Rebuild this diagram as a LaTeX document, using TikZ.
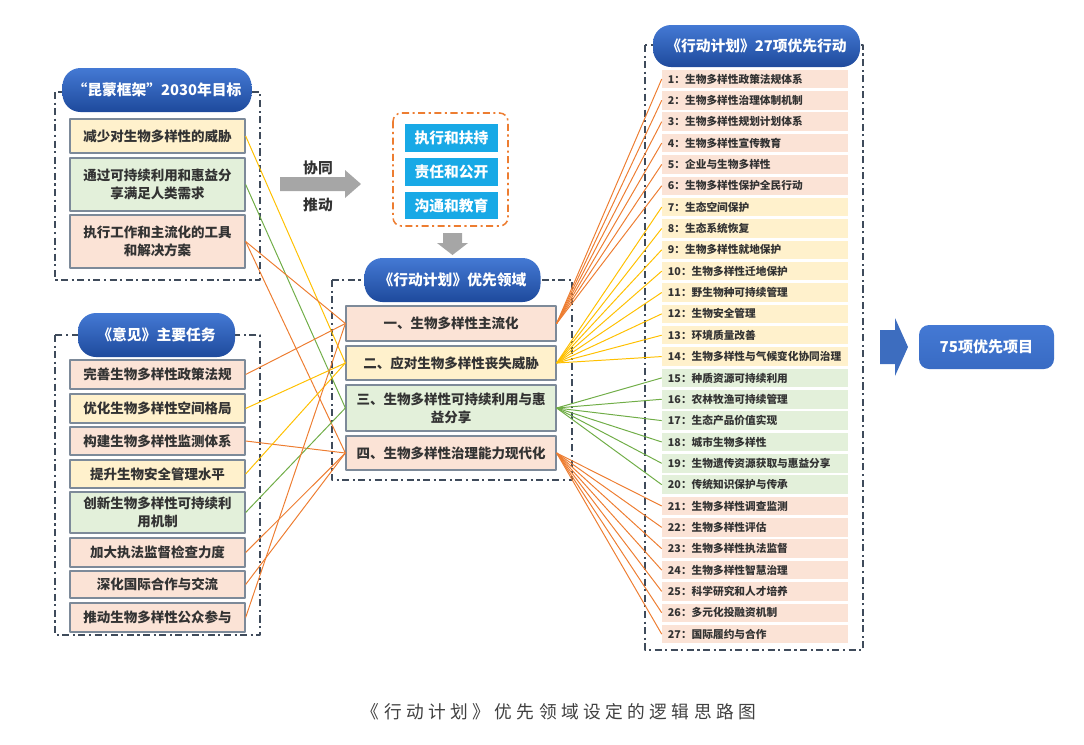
\documentclass[tikz,border=0pt]{standalone}
\usepackage{fontspec}
\setmainfont{Noto Sans CJK SC}
\newfontfamily\capfont[LetterSpace=25]{Noto Sans CJK SC}
\definecolor{pinkbox}{HTML}{FBE3D6}
\definecolor{yellowbox}{HTML}{FFF1CC}
\definecolor{greenbox}{HTML}{E3F0DA}
\definecolor{orangeline}{HTML}{ED7D31}
\definecolor{yellowline}{HTML}{FFC000}
\definecolor{greenline}{HTML}{70AD47}
\definecolor{boxedge}{HTML}{7D8A99}
\definecolor{framegray}{HTML}{3F4B5B}
\definecolor{pilltop}{HTML}{4479D4}
\definecolor{pillbot}{HTML}{1E4A9C}
\definecolor{cyanbox}{HTML}{18A9E6}
\definecolor{arrowgray}{HTML}{A6A6A6}
\definecolor{textgray}{HTML}{333333}
\tikzset{
  wh/.style 2 args={minimum width=#1*0.025cm,minimum height=#2*0.025cm},
  box/.style={draw=boxedge,line width=0.9pt,inner sep=0pt,align=center,text=textgray,
    font=\fontsize{9.6}{13}\selectfont\bfseries},
  pill/.style={rounded corners=0.45cm,top color=pilltop,bottom color=pillbot,text=white,
    inner sep=0pt,font=\fontsize{10.5}{12}\selectfont\bfseries},
  frame/.style={framegray,line width=1.1pt,dash pattern=on 5pt off 2.5pt on 1.5pt off 2.5pt},
  row/.style={inner sep=0pt,wh={186}{18.5},text width=4.35cm,align=left,text=textgray,
    font=\fontsize{7.6}{9}\selectfont\bfseries},
  cyanitem/.style={fill=cyanbox,inner sep=0pt,text=white,font=\fontsize{10.5}{12}\selectfont\bfseries},
  link/.style={line width=0.7pt}
}

\begin{document}
\begin{tikzpicture}[x=0.025cm,y=-0.025cm,line join=round]
  \useasboundingbox (0,0) rectangle (1084,744);

  % 左上：昆蒙框架
  \draw[frame] (55,92) rectangle (260,280);
  \node[pill,wh={189}{44}] (t1) at (157,90) {“昆蒙框架”2030年目标};
  \node[box,wh={175}{34},fill=yellowbox] (a1) at (157.5,136) {减少对生物多样性的威胁};
  \node[box,wh={175}{53},fill=greenbox] (a2) at (157.5,184.5) {通过可持续利用和惠益分\\享满足人类需求};
  \node[box,wh={175}{53},fill=pinkbox] (a3) at (157.5,241.5) {执行工作和主流化的工具\\和解决方案};

  % 左下：意见
  \draw[frame] (55,335) rectangle (260,635);
  \node[pill,wh={157}{44}] (t2) at (156.5,335) {《意见》主要任务};
  \node[box,wh={175}{29},fill=pinkbox] (b1) at (157.5,374.5) {完善生物多样性政策法规};
  \node[box,wh={175}{29},fill=yellowbox] (b2) at (157.5,408.5) {优化生物多样性空间格局};
  \node[box,wh={175}{28},fill=pinkbox] (b3) at (157.5,441) {构建生物多样性监测体系};
  \node[box,wh={175}{28},fill=yellowbox] (b4) at (157.5,474) {提升生物安全管理水平};
  \node[box,wh={175}{41},fill=greenbox] (b5) at (157.5,512.5) {创新生物多样性可持续利\\用机制};
  \node[box,wh={175}{29},fill=pinkbox] (b6) at (157.5,552.5) {加大执法监督检查力度};
  \node[box,wh={175}{27},fill=pinkbox] (b7) at (157.5,584.5) {深化国际合作与交流};
  \node[box,wh={175}{29},fill=pinkbox] (b8) at (157.5,617.5) {推动生物多样性公众参与};

  % 协同推动
  \fill[arrowgray] (280,177) -- (345,177) -- (345,170) -- (361,184) -- (345,198) -- (345,191) -- (280,191) -- cycle;
  \node[text=textgray,font=\fontsize{10.5}{12}\selectfont\bfseries] (xt) at (318,168) {协同};
  \node[text=textgray,font=\fontsize{10.5}{12}\selectfont\bfseries] (td) at (318,205) {推动};

  % 三个保障
  \draw[orangeline,line width=1.1pt,rounded corners=6pt,dash pattern=on 5pt off 2.5pt on 1.5pt off 2.5pt]
    (393,113) rectangle (508,226);
  \node[cyanitem,wh={93}{28}] (c1) at (451.5,138) {执行和扶持};
  \node[cyanitem,wh={93}{28}] (c2) at (451.5,172) {责任和公开};
  \node[cyanitem,wh={93}{27}] (c3) at (451.5,205.5) {沟通和教育};
  \fill[arrowgray] (443,233) -- (462,233) -- (462,243) -- (468,243) -- (452.5,255) -- (437,243) -- (443,243) -- cycle;

  % 中间：优先领域
  \draw[frame] (332,280) rectangle (572,480);
  \node[pill,wh={176}{44}] (t3) at (452.5,280) {《行动计划》优先领域};
  \node[box,wh={210}{35},fill=pinkbox] (p1) at (451,323.5) {一、生物多样性主流化};
  \node[box,wh={210}{34},fill=yellowbox] (p2) at (451,363) {二、应对生物多样性丧失威胁};
  \node[box,wh={210}{46},fill=greenbox] (p3) at (451,408) {三、生物多样性可持续利用与惠\\益分享};
  \node[box,wh={210}{34},fill=pinkbox] (p4) at (451,453) {四、生物多样性治理能力现代化};

  % 左侧连线
  \draw[link,yellowline] (a1.east) -- (p2.west);
  \draw[link,greenline] (a2.east) -- (p3.west);
  \draw[link,orangeline] (a3.east) -- (p1.west);
  \draw[link,orangeline] (a3.east) -- (p4.west);
  \draw[link,orangeline] (b1.east) -- (p1.west);
  \draw[link,yellowline] (b2.east) -- (p2.west);
  \draw[link,orangeline] (b3.east) -- (p4.west);
  \draw[link,yellowline] (b4.east) -- (p2.west);
  \draw[link,greenline] (b5.east) -- (p3.west);
  \draw[link,orangeline] (b6.east) -- (p4.west);
  \draw[link,orangeline] (b7.east) -- (p4.west);
  \draw[link,orangeline] (b8.east) -- (p1.west);

  % 右侧：27项优先行动
  \draw[frame] (645,45) rectangle (863,650);
  \node[pill,wh={207}{42}] (t4) at (756.5,46) {《行动计划》27项优先行动};
  \foreach \i/\c/\l/\p/\t in {
    1/pinkbox/orangeline/p1/生物多样性政策法规体系,
    2/pinkbox/orangeline/p1/生物多样性治理体制机制,
    3/pinkbox/orangeline/p1/生物多样性规划计划体系,
    4/pinkbox/orangeline/p1/生物多样性宣传教育,
    5/pinkbox/orangeline/p1/企业与生物多样性,
    6/pinkbox/orangeline/p1/生物多样性保护全民行动,
    7/yellowbox/yellowline/p2/生态空间保护,
    8/yellowbox/yellowline/p2/生态系统恢复,
    9/yellowbox/yellowline/p2/生物多样性就地保护,
    10/yellowbox/yellowline/p2/生物多样性迁地保护,
    11/yellowbox/yellowline/p2/野生物种可持续管理,
    12/yellowbox/yellowline/p2/生物安全管理,
    13/yellowbox/yellowline/p2/环境质量改善,
    14/yellowbox/yellowline/p2/生物多样性与气候变化协同治理,
    15/greenbox/greenline/p3/种质资源可持续利用,
    16/greenbox/greenline/p3/农林牧渔可持续管理,
    17/greenbox/greenline/p3/生态产品价值实现,
    18/greenbox/greenline/p3/城市生物多样性,
    19/greenbox/greenline/p3/生物遗传资源获取与惠益分享,
    20/greenbox/greenline/p3/传统知识保护与传承,
    21/pinkbox/orangeline/p4/生物多样性调查监测,
    22/pinkbox/orangeline/p4/生物多样性评估,
    23/pinkbox/orangeline/p4/生物多样性执法监督,
    24/pinkbox/orangeline/p4/生物多样性智慧治理,
    25/pinkbox/orangeline/p4/科学研究和人才培养,
    26/pinkbox/orangeline/p4/多元化投融资机制,
    27/pinkbox/orangeline/p4/国际履约与合作}{
    \node[row,fill=\c] (r\i) at (755,{79+(\i-1)*21.35}) {\i：\t};
    \draw[link,\l] (\p.east) -- (r\i.west);
  }

  % 75项优先项目
  \fill[pilltop!90!black] (880,330) -- (895,330) -- (895,318) -- (908,347) -- (895,376) -- (895,364) -- (880,364) -- cycle;
  \node[rounded corners=0.25cm,top color=pilltop,bottom color=pilltop!70!pillbot,text=white,
    inner sep=0pt,wh={135}{44},font=\fontsize{10.7}{12}\selectfont\bfseries] (e) at (986.5,347) {75项优先项目};

  \node[text=black!75,font=\capfont\fontsize{12.6}{14}\selectfont] (cap) at (559,712) {《行动计划》优先领域设定的逻辑思路图};
\end{tikzpicture}
\end{document}
